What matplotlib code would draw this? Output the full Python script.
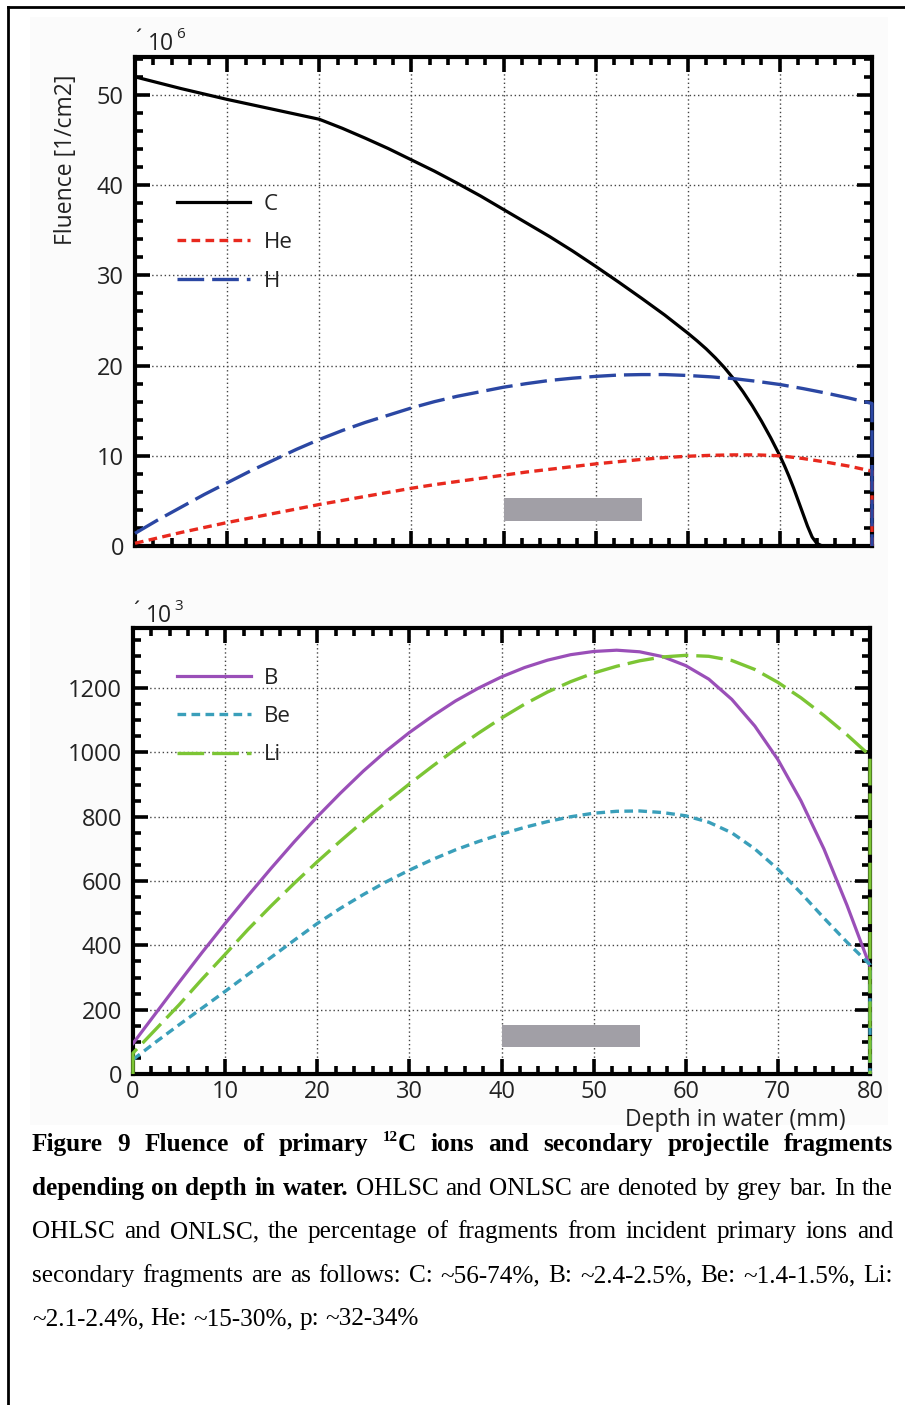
import matplotlib
matplotlib.use("Agg")
import matplotlib.pyplot as plt
from matplotlib.lines import Line2D
from matplotlib.patches import Rectangle
from matplotlib.ticker import MultipleLocator

# ---------------- data ----------------
c_depth = [0, 2.5, 5, 7.5, 10, 12.5, 15, 17.5, 20, 22.5, 25, 27.5, 30, 32.5, 35, 37.5, 40,
           42.5, 45, 47.5, 50, 52.5, 55, 57.5, 60, 61, 62, 63, 64, 65, 66, 67, 68, 69, 70,
           70.5, 71, 71.5, 72, 72.5, 73, 73.5, 74, 74.5, 75, 80]
c_val = [52.0, 51.35, 50.7, 50.1, 49.5, 48.95, 48.4, 47.85, 47.3, 46.3, 45.2, 44.05, 42.8,
         41.55, 40.2, 38.8, 37.3, 35.8, 34.3, 32.7, 31.0, 29.25, 27.45, 25.6, 23.6, 22.75,
         21.85, 20.85, 19.75, 18.5, 17.1, 15.55, 13.85, 12.0, 10.0, 8.9, 7.7, 6.4, 5.0, 3.6,
         2.2, 1.0, 0.3, 0.05, 0, 0]

h_depth = [0, 2.5, 5, 7.5, 10, 12.5, 15, 17.5, 20, 22.5, 25, 27.5, 30, 32.5, 35, 37.5, 40,
           42.5, 45, 47.5, 50, 52.5, 55, 57.5, 60, 62.5, 65, 67.5, 70, 72.5, 75, 77.5, 80, 80]
h_val = [1.4, 2.9, 4.3, 5.7, 7.0, 8.3, 9.5, 10.7, 11.8, 12.8, 13.7, 14.5, 15.3, 16.0, 16.6,
         17.1, 17.6, 18.0, 18.35, 18.6, 18.8, 18.95, 19.0, 19.0, 18.9, 18.75, 18.55, 18.25,
         17.9, 17.45, 16.95, 16.4, 15.8, 0]

he_depth = [0, 2.5, 5, 7.5, 10, 12.5, 15, 17.5, 20, 22.5, 25, 27.5, 30, 32.5, 35, 37.5, 40,
            42.5, 45, 47.5, 50, 52.5, 55, 57.5, 60, 62.5, 65, 67.5, 70, 72.5, 75, 77.5, 80, 80]
he_val = [0.3, 0.9, 1.5, 2.05, 2.6, 3.1, 3.6, 4.1, 4.6, 5.05, 5.5, 5.95, 6.4, 6.8, 7.15, 7.5,
          7.85, 8.2, 8.5, 8.8, 9.1, 9.35, 9.6, 9.8, 9.95, 10.05, 10.1, 10.1, 10.0, 9.7, 9.3,
          8.85, 8.3, 0]

b_depth = [0, 2.5, 5, 7.5, 10, 12.5, 15, 17.5, 20, 22.5, 25, 27.5, 30, 32.5, 35, 37.5, 40,
           42.5, 45, 47.5, 50, 52.5, 55, 57.5, 60, 62.5, 65, 67.5, 70, 72.5, 75, 77.5, 80]
b_val = [95, 190, 285, 378, 468, 555, 640, 722, 800, 873, 942, 1005, 1062, 1113, 1160, 1200,
         1235, 1264, 1287, 1304, 1314, 1318, 1313, 1298, 1270, 1228, 1165, 1082, 978, 850,
         700, 525, 335]

li_depth = [0, 0, 2.5, 5, 7.5, 10, 12.5, 15, 17.5, 20, 22.5, 25, 27.5, 30, 32.5, 35, 37.5,
            40, 42.5, 45, 47.5, 50, 52.5, 55, 57.5, 60, 62.5, 65, 67.5, 70, 72.5, 75, 77.5,
            80, 80]
li_val = [0, 65, 140, 215, 295, 372, 450, 523, 593, 660, 724, 786, 845, 902, 957, 1010, 1060,
          1107, 1150, 1188, 1220, 1247, 1268, 1285, 1297, 1302, 1299, 1286, 1258, 1218, 1170,
          1115, 1055, 990, 0]

be_depth = [0, 2.5, 5, 7.5, 10, 12.5, 15, 17.5, 20, 22.5, 25, 27.5, 30, 32.5, 35, 37.5, 40,
            42.5, 45, 47.5, 50, 52.5, 55, 57.5, 60, 62.5, 65, 67.5, 70, 72.5, 75, 77.5, 80, 80]
be_val = [45, 100, 153, 205, 257, 310, 363, 416, 468, 515, 558, 598, 634, 667, 697, 723, 746,
          767, 785, 800, 811, 817, 818, 813, 803, 783, 750, 700, 637, 563, 485, 410, 340, 0]

bar_x = [40, 55]
bar_top_y = [2.8, 5.3]
bar_bot_y = [84, 152]

x_ticks = [0, 10, 20, 30, 40, 50, 60, 70, 80]
top_yticks = [0, 10, 20, 30, 40, 50]
bot_yticks = [0, 200, 400, 600, 800, 1000, 1200]

caption_lines = [
    [[("Figure", "bold")], [("9", "bold")], [("Fluence", "bold")], [("of", "bold")],
     [("primary", "bold")], [("12", "bsup"), ("C", "bold")], [("ions", "bold")],
     [("and", "bold")], [("secondary", "bold")], [("projectile", "bold")],
     [("fragments", "bold")]],
    [[("depending", "bold")], [("on", "bold")], [("depth", "bold")], [("in", "bold")],
     [("water.", "bold")], [("OHLSC", "normal")], [("and", "normal")], [("ONLSC", "normal")],
     [("are", "normal")], [("denoted", "normal")], [("by", "normal")], [("grey", "normal")],
     [("bar.", "normal")], [("In", "normal")], [("the", "normal")]],
    [[(w, "normal")] for w in "OHLSC and ONLSC, the percentage of fragments from incident primary ions and".split()],
    [[(w, "normal")] for w in "secondary fragments are as follows: C: ~56-74%, B: ~2.4-2.5%, Be: ~1.4-1.5%, Li:".split()],
    [[(w, "normal")] for w in "~2.1-2.4%, He: ~15-30%, p: ~32-34%".split()],
]

# ---------------- figure ----------------
W, H = 905, 1405
fig = plt.figure(figsize=(W / 100, H / 100), dpi=100)
fig.patch.set_facecolor("white")

SANS = ["Open Sans", "DejaVu Sans"]
SERIF = ["Liberation Serif", "DejaVu Serif"]
TXT = "#222222"

def fx(px):
    return px / W

def fy(py):
    return 1 - py / H

# light background of the embedded image
bg = Rectangle((fx(30), fy(1125)), fx(888) - fx(30), fy(17) - fy(1125),
               transform=fig.transFigure, facecolor="#fbfbfb",
               edgecolor="none", zorder=-10)
fig.patches.append(bg)
# frame lines
fig.lines.append(Line2D([fx(8), 1.0], [fy(7), fy(7)], transform=fig.transFigure,
                        color="black", lw=2, zorder=-5))
fig.lines.append(Line2D([fx(8), fx(8)], [fy(7), 0.0], transform=fig.transFigure,
                        color="black", lw=2, zorder=-5))

def style_axes(ax, ymin, ymax, ymajor, yminor, show_xlabels):
    ax.set_facecolor("white")
    ax.set_xlim(0, 80)
    ax.set_ylim(ymin, ymax)
    ax.xaxis.set_major_locator(MultipleLocator(10))
    ax.xaxis.set_minor_locator(MultipleLocator(2))
    ax.yaxis.set_major_locator(MultipleLocator(ymajor))
    ax.yaxis.set_minor_locator(MultipleLocator(yminor))
    ax.tick_params(which="both", direction="in", top=True, right=True, width=2.6,
                   color="black")
    ax.tick_params(which="major", length=11)
    ax.tick_params(which="minor", length=6)
    ax.tick_params(axis="y", which="major", labelsize=17, pad=8)
    ax.tick_params(axis="x", which="major", labelsize=17, pad=4)
    if not show_xlabels:
        ax.tick_params(axis="x", labelbottom=False)
    for s in ax.spines.values():
        s.set_linewidth(3)
    ax.grid(True, which="major", linestyle=(0, (1, 2)), color="#444444", lw=1)
    ax.set_axisbelow(True)

# ---- top axes ----
ax1 = fig.add_axes([fx(135), fy(546), fx(872) - fx(135), fy(57) - fy(546)])
style_axes(ax1, 0, 54.2, 10, 2, False)
ax1.set_yticks(top_yticks)
ax1.set_yticklabels([str(v) for v in top_yticks], family=SANS, color=TXT)
ax1.add_patch(Rectangle((bar_x[0], bar_top_y[0]), bar_x[1] - bar_x[0],
                        bar_top_y[1] - bar_top_y[0], facecolor="#a19fa6",
                        edgecolor="none", zorder=3))
lc, = ax1.plot(c_depth, c_val, color="black", lw=2.3, label="C", zorder=5)
lhe, = ax1.plot(he_depth, he_val, color="#e8291e", lw=2.4, dashes=(2.6, 1.6),
                label="He", zorder=5, clip_on=False)
lh, = ax1.plot(h_depth, h_val, color="#2b47a3", lw=2.4, dashes=(8, 2.4),
               label="H", zorder=5, clip_on=False)
ax1.set_ylabel("Fluence [1/cm2]", family=SANS, fontsize=16.5, color=TXT)
ax1.yaxis.set_label_coords(-0.077, 0.79)
leg1 = ax1.legend(handles=[lc, lhe, lh], loc="upper left",
                  bbox_to_anchor=(0.057, 0.72), frameon=False,
                  prop={"family": SANS, "size": 16}, handlelength=3.3,
                  handletextpad=0.6, labelspacing=0.78, borderpad=0, borderaxespad=0)
for t in leg1.get_texts():
    t.set_color(TXT)

# ---- bottom axes ----
ax2 = fig.add_axes([fx(133), fy(1074), fx(870) - fx(133), fy(628) - fy(1074)])
style_axes(ax2, 0, 1387, 200, 50, True)
ax2.set_xticks(x_ticks)
ax2.set_xticklabels([str(v) for v in x_ticks], family=SANS, color=TXT)
ax2.set_yticks(bot_yticks)
ax2.set_yticklabels([str(v) for v in bot_yticks], family=SANS, color=TXT)
ax2.add_patch(Rectangle((bar_x[0], bar_bot_y[0]), bar_x[1] - bar_x[0],
                        bar_bot_y[1] - bar_bot_y[0], facecolor="#a19fa6",
                        edgecolor="none", zorder=3))
lb, = ax2.plot(b_depth, b_val, color="#9a4fb8", lw=2.3, label="B", zorder=5)
lbe, = ax2.plot(be_depth, be_val, color="#3a9fba", lw=2.4, dashes=(2.6, 1.6),
                label="Be", zorder=5, clip_on=False)
lli, = ax2.plot(li_depth, li_val, color="#7cc534", lw=2.4, dashes=(8, 2.4),
                label="Li", zorder=5, clip_on=False)
ax2.set_xlabel("Depth in water (mm)", family=SANS, fontsize=16.5, color=TXT)
ax2.xaxis.set_label_coords(0.967, -0.077)
ax2.xaxis.label.set_horizontalalignment("right")
leg2 = ax2.legend(handles=[lb, lbe, lli], loc="upper left",
                  bbox_to_anchor=(0.06, 0.911), frameon=False,
                  prop={"family": SANS, "size": 16}, handlelength=3.3,
                  handletextpad=0.6, labelspacing=0.78, borderpad=0, borderaxespad=0)
for t in leg2.get_texts():
    t.set_color(TXT)

# multiplier labels
fig.text(fx(135), fy(40), "´", family=SANS, fontsize=16, color=TXT, va="center")
fig.text(fx(148), fy(44), "10", family=SANS, fontsize=16.5, color=TXT, va="center")
fig.text(fx(176), fy(35), "6", family=SANS, fontsize=11, color=TXT, va="center")
fig.text(fx(133), fy(612), "´", family=SANS, fontsize=16, color=TXT, va="center")
fig.text(fx(146), fy(616), "10", family=SANS, fontsize=16.5, color=TXT, va="center")
fig.text(fx(174), fy(607), "3", family=SANS, fontsize=11, color=TXT, va="center")

# ---------------- caption (justified) ----------------
renderer = fig.canvas.get_renderer()
CAP_SIZE = 18.2
LEFT, RIGHT = 32, 893
baselines = [1151, 1195, 1238, 1282, 1325]

def make_piece(text, kind, x, y):
    if kind == "bsup":
        t = fig.text(fx(x), fy(y - 10), text, family=SERIF, fontsize=CAP_SIZE * 0.6,
                     weight="bold", va="baseline", ha="left")
    else:
        t = fig.text(fx(x), fy(y), text, family=SERIF, fontsize=CAP_SIZE,
                     weight=kind, va="baseline", ha="left")
    return t

for i, line in enumerate(caption_lines):
    y = baselines[i]
    objs = []
    widths = []
    for token in line:
        pieces = []
        w = 0
        for text, kind in token:
            t = make_piece(text, kind, 0, y)
            pw = t.get_window_extent(renderer).width
            pieces.append((t, kind, pw))
            w += pw
        objs.append(pieces)
        widths.append(w)
    total = sum(widths)
    if i < len(caption_lines) - 1:
        gap = (RIGHT - LEFT - total) / (len(line) - 1)
    else:
        sp = make_piece(" ", "normal", 0, y)
        gap = sp.get_window_extent(renderer).width
        sp.remove()
    x = LEFT
    for pieces, w in zip(objs, widths):
        px = x
        for t, kind, pw in pieces:
            t.set_x(fx(px))
            px += pw
        x += w + gap

fig.savefig("out.png", dpi=100, facecolor="white")
